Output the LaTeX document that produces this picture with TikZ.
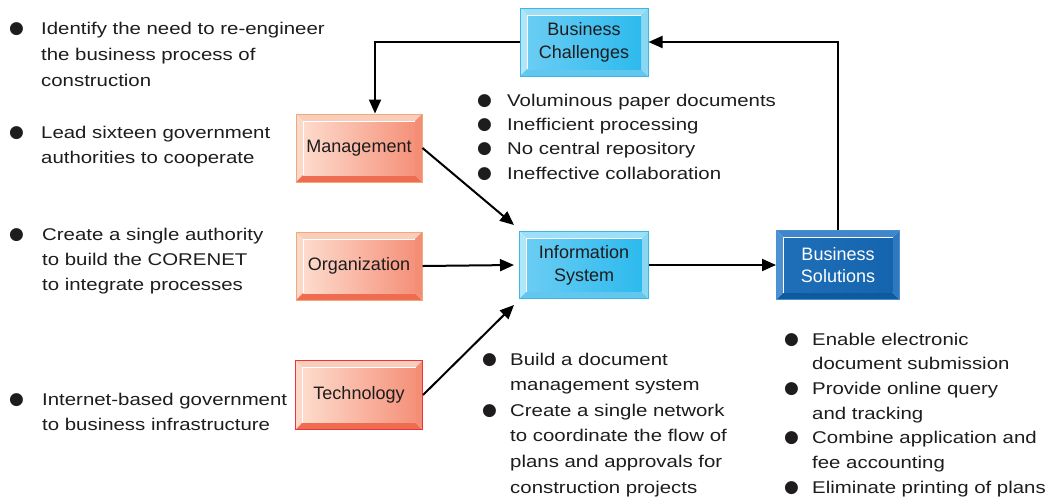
\documentclass[tikz,border=0pt]{standalone}
\usepackage{fontspec}
\setmainfont{Liberation Sans}
\newfontfamily\bodyfont[FakeStretch=1.2]{Liberation Sans}
\newfontfamily\bulfont{DejaVu Sans}
\usetikzlibrary{arrows.meta,calc}
\definecolor{txt}{HTML}{1E1C1D}
% light blue
\definecolor{lbBorder}{HTML}{3DB5E6}
\definecolor{lbTop}{HTML}{9EDFF8}
\definecolor{lbLeft}{HTML}{B0E6F9}
\definecolor{lbBot}{HTML}{62C7EF}
\definecolor{lbRight}{HTML}{8AD7F4}
\definecolor{lbInL}{HTML}{6ACDF3}
\definecolor{lbInR}{HTML}{2DBAEE}
% dark blue
\definecolor{dbBorder}{HTML}{4A8FD0}
\definecolor{dbTop}{HTML}{3F86CB}
\definecolor{dbLeft}{HTML}{4D91D2}
\definecolor{dbBot}{HTML}{0E5A9E}
\definecolor{dbRight}{HTML}{2D78BE}
\definecolor{dbInL}{HTML}{1F6EB8}
\definecolor{dbInR}{HTML}{1464AE}
% salmon
\definecolor{saBorder}{HTML}{F2A97A}
\definecolor{saRed}{HTML}{E8343C}
\definecolor{saTop}{HTML}{FACDBB}
\definecolor{saLeft}{HTML}{FCD8C9}
\definecolor{saBot}{HTML}{F06C50}
\definecolor{saRight}{HTML}{F38E74}
\definecolor{saInL}{HTML}{FDDBCC}
\definecolor{saInR}{HTML}{F5917A}
\newcommand\bul{\raisebox{0.9pt}{\bulfont\fontsize{17}{17}\selectfont ●}}
\tikzset{
  bevbox/.style n args={7}{
    draw=#1, line width=1pt, inner sep=0pt, align=center, text=txt,
    font=\fontsize{18}{22.7}\selectfont,
    path picture={
      \path (path picture bounding box.south west) coordinate (pA)
            (path picture bounding box.north east) coordinate (pB);
      \coordinate (pC) at (pA |- pB);
      \coordinate (pD) at (pA -| pB);
      \fill[#2] (pC) -- (pB) -- ([shift={(-7pt,-7pt)}]pB) -- ([shift={(7pt,-7pt)}]pC) -- cycle;
      \fill[#3] (pA) -- (pC) -- ([shift={(7pt,-7pt)}]pC) -- ([shift={(7pt,7pt)}]pA) -- cycle;
      \fill[#4] (pA) -- (pD) -- ([shift={(-7pt,7pt)}]pD) -- ([shift={(7pt,7pt)}]pA) -- cycle;
      \fill[#5] (pD) -- (pB) -- ([shift={(-7pt,-7pt)}]pB) -- ([shift={(-7pt,7pt)}]pD) -- cycle;
      \shade[left color=#6, right color=#7] ([shift={(7pt,7pt)}]pA) rectangle ([shift={(-7pt,-7pt)}]pB);
      \draw[white, line width=0.9pt] ([shift={(7pt,7pt)}]pA) -- ([shift={(7pt,-7pt)}]pC) -- ([shift={(-7pt,-7pt)}]pB);
    }},
  lightblue/.style={bevbox={lbBorder}{lbTop}{lbLeft}{lbBot}{lbRight}{lbInL}{lbInR}},
  darkblue/.style={bevbox={dbBorder}{dbTop}{dbLeft}{dbBot}{dbRight}{dbInL}{dbInR}, text=white},
  salmon/.style={bevbox={saBorder}{saTop}{saLeft}{saBot}{saRight}{saInL}{saInR}},
  salmonred/.style={bevbox={saRed}{saTop}{saLeft}{saBot}{saRight}{saInL}{saInR}},
  bullist/.style={anchor=base west, inner sep=0pt, text=txt,
    font=\bodyfont\fontsize{17}{#1}\selectfont},
  arr/.style={line width=2pt, black, -{Triangle[length=14pt,width=12pt]}}
}
\begin{document}
\begin{tikzpicture}[x=1pt,y=-1pt]
\useasboundingbox (0,0) rectangle (1048,499);
\fill[white] (0,0) rectangle (1048,499);

% boxes
\node[lightblue, minimum width=128pt, minimum height=68pt] (bc) at (584,42) {Business\\Challenges};
\node[salmon, minimum width=126pt, minimum height=68pt] (mg) at (359,148) {Management};
\node[salmon, minimum width=126pt, minimum height=68pt] (org) at (359,266) {Organization};
\node[salmonred, minimum width=127pt, minimum height=69pt] (tech) at (359,395) {Technology};
\node[lightblue, minimum width=129pt, minimum height=67pt] (is) at (584,265) {Information\\System};
\node[darkblue, minimum width=123pt, minimum height=69pt] (bs) at (838,265) {Business\\Solutions};

% connectors
\draw[arr] (bc.west) -| ([xshift=16pt]mg.north);
\draw[arr] (bs.north) |- (bc.east);
\draw[arr] (mg.east) -- ([shift={(-5pt,6pt)}]is.north west);
\draw[arr] (org.east) -- ([xshift=-5pt]is.west);
\draw[arr] (tech.east) -- ([shift={(-5pt,-6pt)}]is.south west);
\draw[arr] (is.east) -- (bs.west);

% left texts
\node[bullist=26] (l1) at (9,34.3) {\begin{tabular}[t]{@{}l@{}l@{}}\makebox[32pt][l]{\bul} & Identify the need to re-engineer\\ & the business process of\\ & construction\end{tabular}};
\node[bullist=25] (l2) at (9,138) {\begin{tabular}[t]{@{}l@{}l@{}}\makebox[32pt][l]{\bul} & Lead sixteen government\\ & authorities to cooperate\end{tabular}};
\node[bullist=25] (l3) at (9,240.7) {\begin{tabular}[t]{@{}l@{}l@{}}\makebox[33pt][l]{\bul} & Create a single authority\\ & to build the CORENET\\ & to integrate processes\end{tabular}};
\node[bullist=25] (l4) at (9,405) {\begin{tabular}[t]{@{}l@{}l@{}}\makebox[33pt][l]{\bul} & Internet-based government\\ & to business infrastructure\end{tabular}};

% middle top
\node[bullist=24.4] (ch) at (477,106) {\begin{tabular}[t]{@{}l@{}l@{}}\makebox[30pt][l]{\bul} & Voluminous paper documents\\ \bul & Inefficient processing\\ \bul & No central repository\\ \bul & Ineffective collaboration\end{tabular}};

% middle bottom
\node[bullist=25.6] (isl) at (482,365) {\begin{tabular}[t]{@{}l@{}l@{}}\makebox[28pt][l]{\bul} & Build a document\\ & management system\\ \bul & Create a single network\\ & to coordinate the flow of\\ & plans and approvals for\\ & construction projects\end{tabular}};

% right bottom
\node[bullist=24.7] (bsl) at (784,345) {\begin{tabular}[t]{@{}l@{}l@{}}\makebox[28pt][l]{\bul} & Enable electronic\\ & document submission\\ \bul & Provide online query\\ & and tracking\\ \bul & Combine application and\\ & fee accounting\\ \bul & Eliminate printing of plans\end{tabular}};
\end{tikzpicture}
\end{document}
